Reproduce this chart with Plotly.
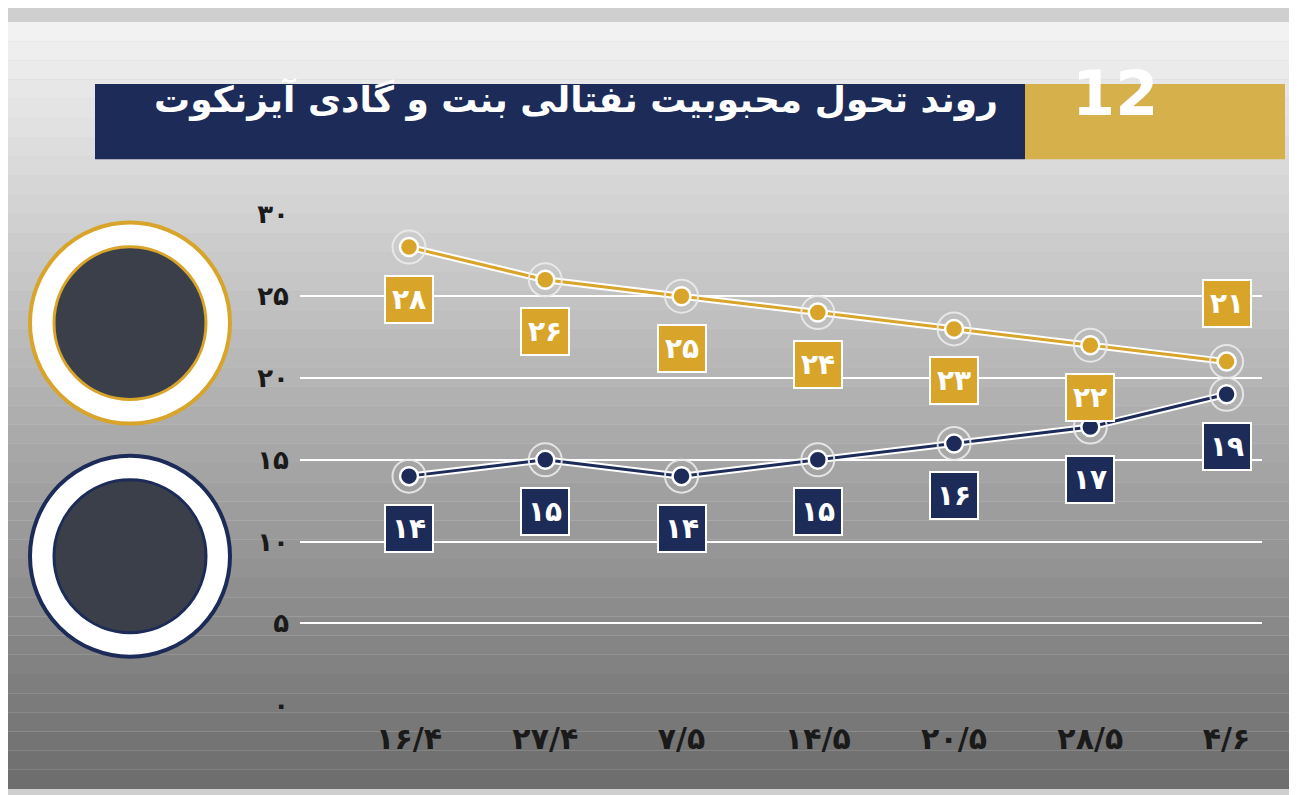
import plotly.graph_objects as go

dates = ['۱۶/۴', '۲۷/۴', '۷/۵', '۱۴/۵', '۲۰/۵', '۲۸/۵', '۴/۶']
bennett = [28, 26, 25, 24, 23, 22, 21]
eisenkot = [14, 15, 14, 15, 16, 17, 19]
bennett_labels = ['۲۸', '۲۶', '۲۵', '۲۴', '۲۳', '۲۲', '۲۱']
eisenkot_labels = ['۱۴', '۱۵', '۱۴', '۱۵', '۱۶', '۱۷', '۱۹']
y_ticks = [0, 5, 10, 15, 20, 25, 30]
y_tick_text = ['۰', '۵', '۱۰', '۱۵', '۲۰', '۲۵', '۳۰']
title = 'روند تحول محبوبیت نفتالی بنت و گادی آیزنکوت'

GOLD = '#d8a52a'
NAVY = '#1c2b58'
FONT = 'DejaVu Sans'
W, H = 1297, 795


def px(v):
    # screen pixel -> paper x
    return (v - 8) / W


def py(v):
    # screen pixel -> paper y
    return 1 - ((v - 23.4) / 0.96) / H


x = list(range(len(dates)))
fig = go.Figure()

for ys, col in [(bennett, GOLD), (eisenkot, NAVY)]:
    fig.add_trace(go.Scatter(x=x, y=ys, mode='lines', line=dict(color='white', width=7),
                             hoverinfo='skip', showlegend=False))
    fig.add_trace(go.Scatter(x=x, y=ys, mode='lines+markers', line=dict(color=col, width=3),
                             marker=dict(size=18, color=col, line=dict(color='white', width=2.5)),
                             showlegend=False))
    fig.add_trace(go.Scatter(x=x, y=ys, mode='markers', hoverinfo='skip', showlegend=False,
                             marker=dict(size=33, color='rgba(0,0,0,0)',
                                         line=dict(color='rgba(235,235,235,0.9)', width=2))))

annotations = []
for i in x:
    up = i == len(x) - 1
    annotations.append(dict(x=i, y=bennett[i], text='<b>' + bennett_labels[i] + '</b>', showarrow=False,
                            yshift=58 if up else -52, bgcolor=GOLD, bordercolor='white',
                            borderwidth=2, borderpad=6, font=dict(color='white', size=28, family=FONT)))
    annotations.append(dict(x=i, y=eisenkot[i], text='<b>' + eisenkot_labels[i] + '</b>', showarrow=False,
                            yshift=-52, bgcolor=NAVY, bordercolor='white',
                            borderwidth=2, borderpad=6, font=dict(color='white', size=28, family=FONT)))

# header
annotations.append(dict(xref='paper', yref='paper', x=px(1000), y=py(122), xanchor='right',
                        yanchor='middle', yshift=22,
                        text='<b>' + title + '</b>', showarrow=False,
                        font=dict(color='white', size=36, family=FONT)))
annotations.append(dict(xref='paper', yref='paper', x=px(1160), y=py(124), yanchor='middle',
                        yshift=30, text='<b>12</b>', showarrow=False,
                        font=dict(color='white', size=62, family=FONT)))

shapes = []
# background gradient
n = 40
for k in range(n):
    t = k / (n - 1)
    v = int(242 - t * (242 - 110))
    shapes.append(dict(type='rect', xref='paper', yref='paper', x0=0, x1=1,
                       y0=1 - (k + 1) / n, y1=1 - k / n, line_width=0, layer='below',
                       fillcolor=f'rgb({v},{v},{v})'))
shapes.append(dict(type='rect', xref='paper', yref='paper', x0=px(95), x1=px(1025),
                   y0=py(160), y1=py(85), fillcolor=NAVY, line_width=0, layer='below'))
shapes.append(dict(type='rect', xref='paper', yref='paper', x0=px(1025), x1=px(1285),
                   y0=py(160), y1=py(85), fillcolor='#d6b04a', line_width=0, layer='below'))
# portrait circles
for cy, col in [(323, GOLD), (555, NAVY)]:
    r = 100
    shapes.append(dict(type='circle', xref='paper', yref='paper', x0=px(130 - r), x1=px(130 + r),
                       y0=py(cy + r), y1=py(cy - r), fillcolor='white',
                       line=dict(color=col, width=4)))
    r = 76
    shapes.append(dict(type='circle', xref='paper', yref='paper', x0=px(130 - r), x1=px(130 + r),
                       y0=py(cy + r), y1=py(cy - r), fillcolor='#3a3f4a',
                       line=dict(color=col, width=3)))

fig.update_layout(
    width=W, height=H, margin=dict(l=0, r=0, t=0, b=0),
    paper_bgcolor='#cfcfcf', plot_bgcolor='rgba(0,0,0,0)',
    shapes=shapes, annotations=annotations,
    xaxis=dict(domain=[px(300), px(1262)], range=[-0.8, 6.26], tickvals=x,
               ticktext=['<b>' + d + '</b>' for d in dates],
               showgrid=False, zeroline=False, ticks='', ticklabelstandoff=12,
               tickfont=dict(size=30, color='#1a1a1a', family=FONT)),
    yaxis=dict(domain=[py(704), py(214)], range=[-0.05, 30.05], tickvals=y_ticks,
               ticktext=['<b>' + t + '</b>' for t in y_tick_text], gridcolor='white',
               gridwidth=2, zeroline=False, showline=False, ticklabelstandoff=10,
               tickfont=dict(size=26, color='#1a1a1a', family=FONT)),
)

fig.write_html('out.html')
